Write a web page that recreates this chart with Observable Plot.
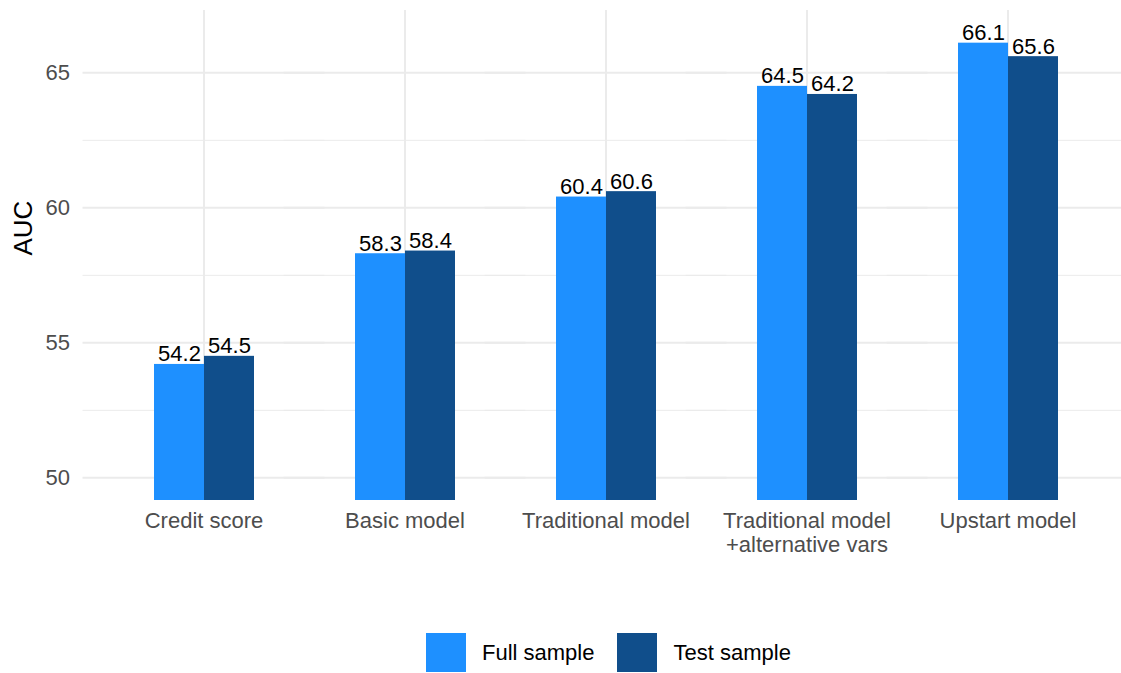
<!DOCTYPE html>
<html>
<head>
<meta charset="utf-8">
<script src="https://cdn.jsdelivr.net/npm/d3@7"></script>
<script src="https://cdn.jsdelivr.net/npm/@observablehq/plot@0.6"></script>
<style>
  html, body { margin: 0; padding: 0; background: white; overflow: hidden; }
  #chart { width: 1121px; overflow: hidden; }
  #chart svg { display: block; max-width: none !important; }
  #legend { margin-left: 426px; margin-top: 13px; font-family: "Liberation Sans", Arial, sans-serif; font-size: 22px; color: #000; }
  #legend .lg-swatch { margin-right: 23px !important; }
  #legend .lg-swatch > svg { margin-right: 16px !important; }
</style>
</head>
<body>
<div id="chart"></div>
<div id="legend"></div>
<script>
const categories = ["Credit score", "Basic model", "Traditional model", "Traditional model\n+alternative vars", "Upstart model"];
const series = ["Full sample", "Test sample"];
const fullValues = [54.2, 58.3, 60.4, 64.5, 66.1];
const testValues = [54.5, 58.4, 60.6, 64.2, 65.6];
const yTicks = [50, 55, 60, 65];
const yMinorTicks = [52.5, 57.5, 62.5];
const yDomain = [49.16, 67.31];
const colors = ["#1E90FF", "#104E8B"];

const rows = categories.flatMap((c, i) => [
  {category: c, series: series[0], value: fullValues[i]},
  {category: c, series: series[1], value: testValues[i]}
]);

const grid = "#EBEBEB";
const ext = -70.5; // extend facet grid lines across the gaps between groups

const chart = Plot.plot({
  width: 1128,
  height: 620,
  marginLeft: 84,
  marginRight: 0,
  marginTop: 10,
  marginBottom: 120,
  style: {fontFamily: "'Liberation Sans', Arial, sans-serif", fontSize: "22px", background: "white", overflow: "visible"},
  fx: {domain: categories, paddingInner: 0.497, paddingOuter: 0.345, label: null},
  x: {domain: series, padding: 0, axis: null},
  y: {domain: yDomain, label: null},
  color: {domain: series, range: colors},
  marks: [
    Plot.gridY(yMinorTicks, {stroke: grid, strokeOpacity: 1, strokeWidth: 1, insetLeft: ext, insetRight: ext}),
    Plot.gridY(yTicks, {stroke: grid, strokeOpacity: 1, strokeWidth: 2, insetLeft: ext, insetRight: ext}),
    Plot.gridFx({stroke: grid, strokeOpacity: 1, strokeWidth: 2}),
    Plot.axisY(yTicks, {tickSize: 0, tickPadding: 13 + 70.5, fill: "#4D4D4D", fontSize: 22, label: null}),
    Plot.axisFx({anchor: "bottom", tickSize: 0, tickPadding: 10, fill: "#4D4D4D", fontSize: 22, lineHeight: 1.09, label: null}),
    Plot.barY(rows, {fx: "category", x: "series", y: "value", fill: "series", clip: true}),
    Plot.text(rows, {fx: "category", x: "series", y: "value", text: d => d.value.toFixed(1), dy: -3, lineAnchor: "bottom", fill: "black", fontSize: 22}),
    Plot.text(["AUC"], {frameAnchor: "left", rotate: -90, dx: -130, fontSize: 26, fill: "black", facet: "super"})
  ]
});
document.getElementById("chart").appendChild(chart);

const leg = Plot.legend({
  color: {domain: series, range: colors},
  swatchWidth: 40,
  swatchHeight: 39,
  className: "lg",
  style: {fontFamily: "'Liberation Sans', Arial, sans-serif", fontSize: "22px", color: "#000"}
});
document.getElementById("legend").appendChild(leg);
</script>
</body>
</html>
